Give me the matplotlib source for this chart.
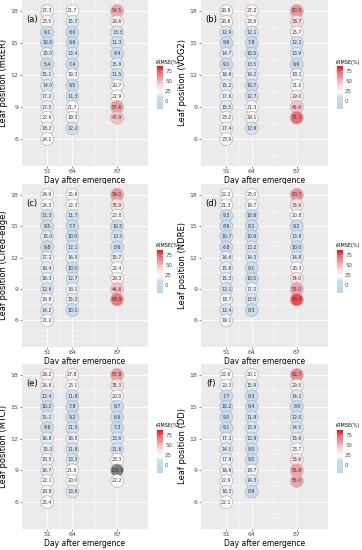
import matplotlib.pyplot as plt
import numpy as np
from matplotlib.colors import LinearSegmentedColormap, Normalize
from matplotlib.colorbar import ColorbarBase

days = [51, 64, 87]
leaves_51 = [18, 17, 16, 15, 14, 13, 12, 11, 10, 9, 8, 7, 6]
leaves_64 = [18, 17, 16, 15, 14, 13, 12, 11, 10, 9, 8, 7]
leaves_87 = [18, 17, 16, 15, 14, 13, 12, 11, 10, 9, 8]

# rRMSE (%) per index, one list per day
mrer = ([27.3, 23.5, 9.1, 10.0, 15.0, 5.4, 15.1, 14.0, 17.2, 17.5, 22.6, 18.2, 24.1],
        [21.7, 15.3, 8.0, 9.6, 13.4, 7.4, 19.3, 9.5, 11.3, 21.7, 19.3, 12.2],
        [54.5, 29.6, 13.3, 11.3, 8.4, 15.8, 11.5, 20.7, 22.9, 57.6, 47.9])
vog2 = ([26.9, 26.6, 12.9, 9.9, 14.7, 9.1, 16.6, 15.2, 17.6, 15.5, 23.0, 17.4, 23.9],
        [27.2, 23.6, 12.1, 7.8, 10.5, 13.5, 14.2, 10.7, 12.7, 21.3, 29.1, 12.9],
        [60.5, 38.7, 25.7, 12.2, 13.9, 9.9, 18.1, 21.0, 29.0, 45.6, 71.1])
cired = ([24.9, 24.3, 11.3, 9.5, 15.0, 9.8, 17.2, 16.4, 16.3, 12.6, 19.8, 14.2, 21.2],
         [25.6, 22.3, 11.7, 7.7, 10.0, 12.1, 16.5, 10.5, 12.7, 18.1, 15.3, 10.1],
         [59.0, 35.9, 22.8, 10.5, 13.5, 8.6, 15.7, 22.4, 29.3, 46.6, 68.8])
ndre = ([22.2, 21.3, 9.3, 8.9, 10.7, 6.8, 16.6, 15.8, 15.3, 12.1, 18.7, 12.4, 19.1],
        [23.0, 19.7, 10.6, 8.1, 10.9, 13.2, 14.3, 9.1, 10.5, 17.2, 13.0, 8.3],
        [60.7, 33.6, 20.8, 9.2, 13.8, 10.0, 14.8, 26.3, 34.0, 55.0, 76.7])
mtci = ([29.2, 26.8, 12.4, 10.2, 15.2, 8.6, 16.8, 15.3, 18.5, 16.7, 22.1, 18.8, 25.4],
        [27.8, 23.1, 11.8, 7.8, 9.2, 11.5, 16.5, 11.8, 13.3, 21.6, 20.0, 13.8],
        [57.8, 35.3, 20.0, 9.7, 6.6, 7.3, 13.6, 11.6, 23.3, 130.9, 22.2])
dd = ([22.6, 20.3, 7.7, 10.2, 9.0, 9.1, 17.1, 14.5, 17.9, 16.9, 22.9, 16.3, 22.1],
      [20.1, 15.9, 8.3, 9.4, 11.9, 13.9, 12.9, 8.0, 9.5, 18.7, 14.3, 8.9],
      [62.7, 29.5, 14.2, 8.0, 12.0, 14.5, 15.6, 23.7, 33.6, 55.8, 55.0])

panels = [("(a)", "mRER", mrer), ("(b)", "VOG2", vog2),
          ("(c)", "CIred-edge", cired), ("(d)", "NDRE", ndre),
          ("(e)", "MTCI", mtci), ("(f)", "DD", dd)]

vmin, vmax = -20, 88
def frac(v):
    return (v - vmin) / (vmax - vmin)

cmap = LinearSegmentedColormap.from_list("rrmse", [
    (0.0, "#b9d5ec"),
    (frac(10), "#c8dcef"),
    (frac(22), "#ffffff"),
    (frac(40), "#fbd8da"),
    (frac(55), "#f5a3a8"),
    (frac(70), "#f0737b"),
    (1.0, "#ff0a0a")])
cmap.set_over("#7f7f7f")
norm = Normalize(vmin=vmin, vmax=vmax)

W, H = 362, 550
fig = plt.figure(figsize=(W / 100, H / 100), dpi=100)

row_top = [0, 184, 364]
row_bot = [166, 347, 529]
col_left = [22, 201]
col_right = [148, 328]

for i, (tag, name, vals) in enumerate(panels):
    r, c = divmod(i, 2)
    x0, x1 = col_left[c], col_right[c]
    y0, y1 = row_top[r], row_bot[r]
    ax = fig.add_axes([x0 / W, 1 - y1 / H, (x1 - x0) / W, (y1 - y0) / H])
    ax.set_facecolor("#ebebeb")
    for s in ax.spines.values():
        s.set_visible(False)
    ax.set_xlim(38.1, 102.9)
    ax.set_ylim(3.47, 19.03)
    ax.set_xticks(days)
    ax.set_yticks([6, 9, 12, 15, 18])
    ax.set_xticks([57.5, 75.5], minor=True)
    ax.set_yticks([4.5, 7.5, 10.5, 13.5, 16.5], minor=True)
    ax.grid(which="major", color="white", lw=0.6)
    ax.grid(which="minor", color="white", lw=0.3)
    ax.set_axisbelow(True)
    ax.tick_params(which="major", labelsize=4.5, length=1.5, width=0.4,
                   color="#333333", labelcolor="#4d4d4d", pad=1)
    ax.tick_params(which="minor", length=0)
    ax.set_xlabel("Day after emergence", fontsize=5.5, labelpad=1)
    ax.set_ylabel(f"Leaf position ({name})", fontsize=6, labelpad=2)

    for day, leaves, v in zip(days, [leaves_51, leaves_64, leaves_87], vals):
        ax.scatter([day] * len(leaves), leaves, c=v, cmap=cmap, norm=norm,
                   s=85, edgecolors="#b5b5b5", linewidths=0.5, zorder=3)
        for lp, val in zip(leaves, v):
            ax.text(day, lp, f"{val:.1f}", fontsize=3.3, color="#333333",
                    ha="center", va="center", zorder=4)

    ax.text(0.08, 0.88, tag, transform=ax.transAxes, fontsize=6,
            ha="center", va="center")

    # colour bar legend
    cb_x = x1 + 9
    cax = fig.add_axes([cb_x / W, 1 - (y0 + 109) / H, 6 / W, 43 / H])
    cb = ColorbarBase(cax, cmap=cmap, norm=norm, orientation="vertical",
                      ticks=[0, 25, 50, 75])
    cb.outline.set_visible(False)
    cax.tick_params(labelsize=4, length=1.5, width=0.4, color="white",
                    direction="in", labelcolor="#4d4d4d", pad=1.5)
    fig.text((cb_x - 2) / W, 1 - (y0 + 62) / H, "rRMSE(%)", fontsize=3.5,
             ha="left", va="center")

fig.savefig("out.png", dpi=100)
